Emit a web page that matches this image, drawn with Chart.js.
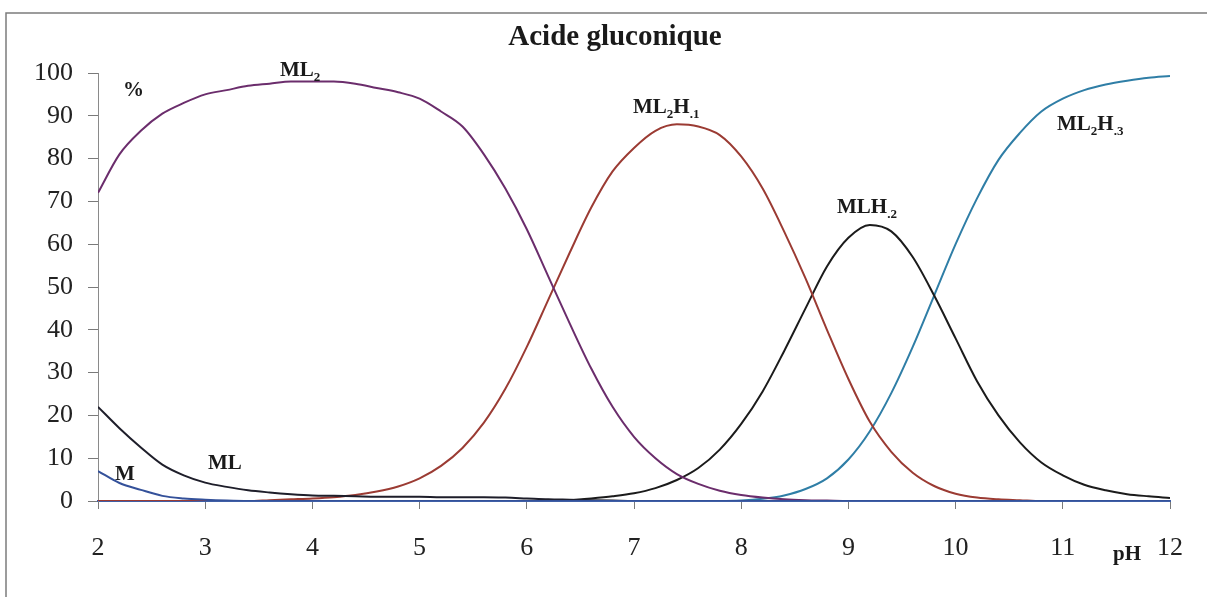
<!DOCTYPE html>
<html>
<head>
<meta charset="utf-8">
<script src="https://cdn.jsdelivr.net/npm/chart.js@4.4.0/dist/chart.umd.min.js"></script>
<style>
  html, body { margin: 0; padding: 0; background: #fff; }
</style>
</head>
<body>
<canvas id="myChart" width="1207" height="597"></canvas>
<script>
const serif = "'Liberation Serif', 'Times New Roman', serif";

// pH values, step 0.2
const pH = [2.0, 2.2, 2.4, 2.6, 2.8, 3.0, 3.2, 3.4, 3.6, 3.8,
  4.0, 4.2, 4.4, 4.6, 4.8, 5.0, 5.2, 5.4, 5.6, 5.8,
  6.0, 6.2, 6.4, 6.6, 6.8, 7.0, 7.2, 7.4, 7.6, 7.8,
  8.0, 8.2, 8.4, 8.6, 8.8, 9.0, 9.2, 9.4, 9.6, 9.8,
  10.0, 10.2, 10.4, 10.6, 10.8, 11.0, 11.2, 11.4, 11.6, 11.8,
  12.0];

const M = [7, 4.2, 2.6, 1.2, 0.6, 0.3, 0.1, 0, 0, 0,
  0, 0, 0, 0, 0, 0, 0, 0, 0, 0,
  0, 0, 0, 0, 0, 0, 0, 0, 0, 0,
  0, 0, 0, 0, 0, 0, 0, 0, 0, 0,
  0, 0, 0, 0, 0, 0, 0, 0, 0, 0,
  0];

const ML = [22, 17, 12.5, 8.5, 6, 4.3, 3.3, 2.5, 2, 1.6,
  1.3, 1.2, 1.1, 1, 1, 1, 0.9, 0.9, 0.9, 0.8,
  0.6, 0.4, 0.3, 0.2, 0.1, 0, 0, 0, 0, 0,
  0, 0, 0, 0, 0, 0, 0, 0, 0, 0,
  0, 0, 0, 0, 0, 0, 0, 0, 0, 0,
  0];

const ML2 = [72, 81, 86.5, 90.5, 93, 95, 96, 97, 97.5, 98,
  98, 98, 97.5, 96.5, 95.5, 94, 91, 87.5, 81, 73,
  63.5, 52.5, 41.5, 31, 22, 15, 10, 6.3, 4, 2.4,
  1.4, 0.8, 0.4, 0.2, 0.1, 0, 0, 0, 0, 0,
  0, 0, 0, 0, 0, 0, 0, 0, 0, 0,
  0];

const ML2H1 = [0, 0, 0, 0, 0, 0, 0, 0, 0.2, 0.4,
  0.6, 0.9, 1.4, 2.2, 3.4, 5.3, 8.2, 12.4, 18.3, 26.2,
  36, 47, 58, 68.5, 77, 82.5, 86.5, 88, 87.5, 85.5,
  80.5, 73, 63, 52, 40, 28.5, 18.5, 11.5, 6.6, 3.5,
  1.7, 0.8, 0.4, 0.2, 0, 0, 0, 0, 0, 0,
  0];

const MLH2 = [0, 0, 0, 0, 0, 0, 0, 0, 0, 0,
  0, 0, 0, 0, 0, 0, 0, 0, 0, 0,
  0, 0, 0.2, 0.6, 1.1, 1.8, 3, 4.9, 7.7, 12,
  18, 25.6, 35, 45, 54.8, 61.5, 64.5, 63, 57, 48,
  38, 28, 20, 13.7, 9, 6, 3.8, 2.5, 1.6, 1.1,
  0.7];

const ML2H3 = [0, 0, 0, 0, 0, 0, 0, 0, 0, 0,
  0, 0, 0, 0, 0, 0, 0, 0, 0, 0,
  0, 0, 0, 0, 0, 0, 0, 0, 0, 0,
  0.1, 0.5, 1.3, 2.8, 5.3, 9.7, 16.3, 25.2, 36, 48,
  60, 70.7, 79.7, 86, 91, 94, 96, 97.3, 98.2, 98.9,
  99.3];

const xTicks = [2, 3, 4, 5, 6, 7, 8, 9, 10, 11, 12];
const yTicks = [0, 10, 20, 30, 40, 50, 60, 70, 80, 90, 100];

function pts(arr) {
  return arr.map(function (v, i) { return { x: pH[i], y: v }; });
}

function line(data, color, order) {
  return {
    data: pts(data),
    borderColor: color,
    borderWidth: 2,
    pointRadius: 0,
    cubicInterpolationMode: "monotone",
    fill: false,
    order: order,
  };
}

// draws text pieces, some of them as subscripts
function rich(ctx, parts, x, y, size) {
  parts.forEach(function (p) {
    const s = p[1] ? size * 0.62 : size;
    ctx.font = "bold " + s + "px " + serif;
    ctx.fillText(p[0], x, p[1] ? y + size * 0.22 : y);
    x += ctx.measureText(p[0]).width;
  });
}

const decor = {
  id: "decor",
  afterDraw: function (chart) {
    const ctx = chart.ctx;
    ctx.save();
    // frame
    ctx.strokeStyle = "#7c7c7c";
    ctx.lineWidth = 1.5;
    ctx.beginPath();
    ctx.moveTo(6, 597);
    ctx.lineTo(6, 13);
    ctx.lineTo(1207, 13);
    ctx.stroke();

    ctx.fillStyle = "#1a1a1a";
    ctx.textBaseline = "alphabetic";
    ctx.textAlign = "center";
    ctx.font = "bold 29px " + serif;
    ctx.fillText("Acide gluconique", 615, 45);

    ctx.textAlign = "left";
    const f = 21;
    rich(ctx, [["%", false]], 123, 96, f);
    rich(ctx, [["ML", false], ["2", true]], 280, 76, f);
    rich(ctx, [["ML", false], ["2", true], ["H", false], [".1", true]], 633, 113, f);
    rich(ctx, [["MLH", false], [".2", true]], 837, 213, f);
    rich(ctx, [["ML", false], ["2", true], ["H", false], [".3", true]], 1057, 130, f);
    rich(ctx, [["M", false]], 115, 480, f);
    rich(ctx, [["ML", false]], 208, 469, f);
    rich(ctx, [["pH", false]], 1113, 560, f);
    ctx.restore();
  },
};

const ctx = document.getElementById("myChart");

const chart = new Chart(ctx, {
  type: "line",
  data: {
    datasets: [
      line(ML2, "#6b2d6c", 2),
      line(ML2H1, "#9b3b33", 2),
      line(MLH2, "#1b1b1b", 2),
      line(ML2H3, "#2f7ea6", 2),
      line(ML, "#1e1e2a", 1),
      line(M, "#34519a", 0),
    ],
  },
  options: {
    responsive: false,
    animation: false,
    layout: { padding: { left: 0, top: 73, right: 24, bottom: 0 } },
    plugins: {
      legend: { display: false },
      tooltip: { enabled: false },
    },
    scales: {
      x: {
        type: "linear",
        min: 2,
        max: 12,
        afterBuildTicks: function (s) {
          s.ticks = xTicks.map(function (v) { return { value: v }; });
        },
        afterFit: function (s) { s.height = 96; },
        grid: { drawOnChartArea: false, tickLength: 8, tickColor: "#7a7a7a" },
        border: { color: "#3f5fa6", width: 2 },
        ticks: { padding: 24, color: "#222", font: { family: serif, size: 26 } },
      },
      y: {
        min: 0,
        max: 100,
        afterBuildTicks: function (s) {
          s.ticks = yTicks.map(function (v) { return { value: v }; });
        },
        afterFit: function (s) { s.width = 98; },
        grid: { drawOnChartArea: false, tickLength: 10, tickColor: "#7a7a7a" },
        border: { color: "#8a8a8a", width: 1 },
        ticks: { padding: 15, color: "#222", font: { family: serif, size: 26 } },
      },
    },
  },
  plugins: [decor],
});
</script>
</body>
</html>
